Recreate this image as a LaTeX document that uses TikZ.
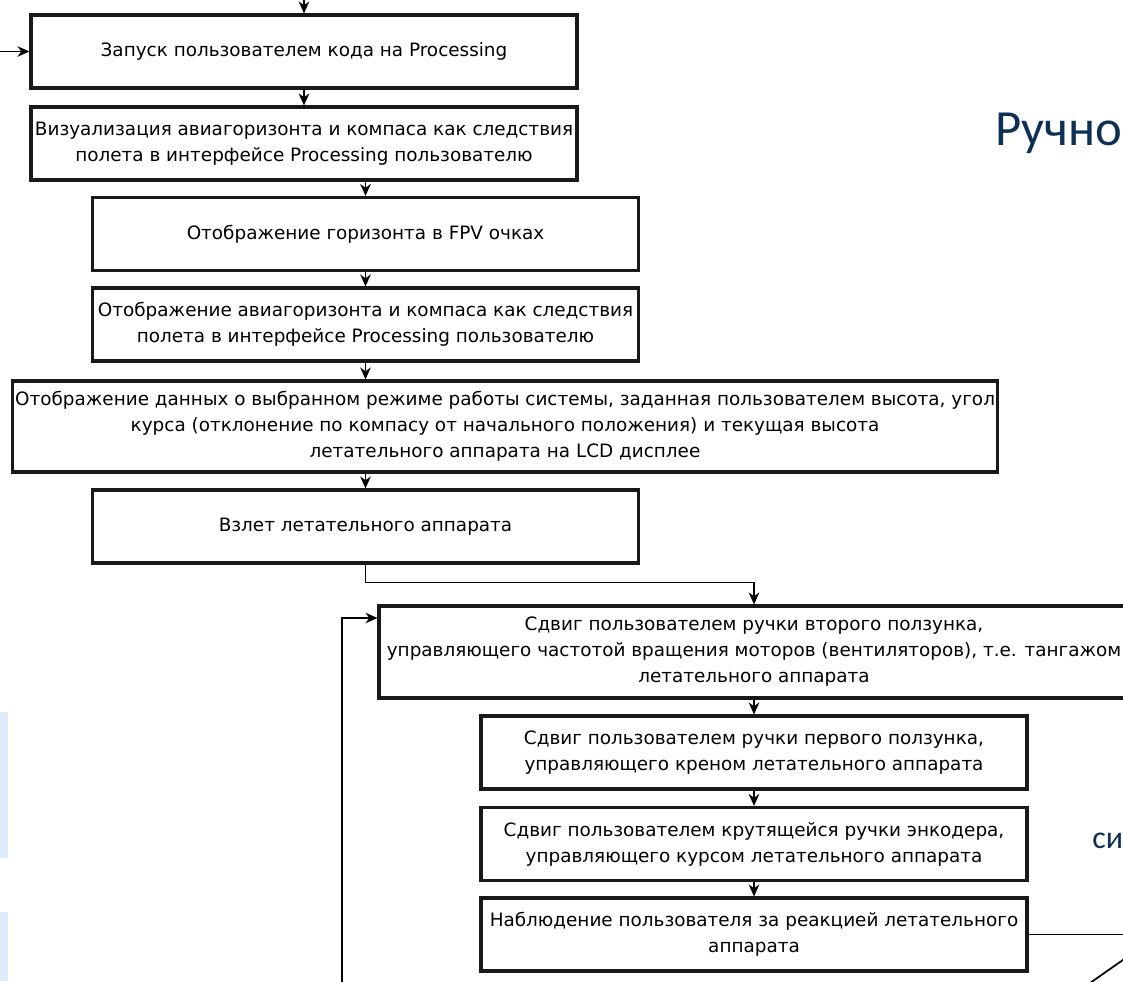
\documentclass[tikz,border=0pt]{standalone}
\usepackage{fontspec}
\setmainfont{DejaVu Sans}
\newfontfamily\titlefont{Carlito}
\usetikzlibrary{arrows.meta, positioning, calc}
\definecolor{navy}{RGB}{14,48,85}
\definecolor{paleblue}{RGB}{221,235,250}

\begin{document}
\begin{tikzpicture}[x=0.75pt, y=-0.75pt,
  blk/.style={rectangle, draw=black!90, line width=2.4pt, fill=white,
              align=center, inner sep=2pt, font=\fontsize{13.8}{19.5}\selectfont},
  wide/.style={blk, minimum width=409.5pt, minimum height=54.75pt},
  ar/.style={-{Stealth[length=9pt, width=8pt]}, line width=1.3pt},
  ln/.style={line width=1.3pt}
]
  \useasboundingbox (0,0) rectangle (1123,981);
  % faint shapes at the left edge
  \fill[paleblue] (0,712) rectangle (8,858);
  \fill[paleblue] (0,912) rectangle (8,981);

  \node[wide] (b1) at (304,51.5)  {Запуск пользователем кода на Processing};
  \node[wide] (b2) at (304,143.5) {Визуализация авиагоризонта и компаса как следствия\\полета в интерфейсе Processing пользователю};
  \node[wide] (b3) at (365.5,234) {Отображение горизонта в FPV очках};
  \node[wide] (b4) at (365.5,324.5) {Отображение авиагоризонта и компаса как следствия\\полета в интерфейсе Processing пользователю};
  \node[blk, minimum width=738pt, minimum height=68.25pt] (b5) at (505,426.5)
    {Отображение данных о выбранном режиме работы системы, заданная пользователем высота, угол\\курса (отклонение по компасу от начального положения) и текущая высота\\летательного аппарата на LCD дисплее};
  \node[wide] (b6) at (365.5,526.5) {Взлет летательного аппарата};
  \node[blk, minimum width=562.5pt, minimum height=69pt] (b7) at (754,652)
    {Сдвиг пользователем ручки второго ползунка,\\управляющего частотой вращения моторов (вентиляторов), т.е. тангажом\\летательного аппарата};
  \node[wide] (b8) at (754,752.5) {Сдвиг пользователем ручки первого ползунка,\\управляющего креном летательного аппарата};
  \node[wide] (b9) at (754,844)   {Сдвиг пользователем крутящейся ручки энкодера,\\управляющего курсом летательного аппарата};
  \node[wide] (b10) at (754,934.5) {Наблюдение пользователя за реакцией летательного\\аппарата};

  \node[anchor=base west, inner sep=0, text=navy, font=\titlefont\fontsize{38}{40}\selectfont] (ttl) at (995,145) {Ручно};
  \node[anchor=base west, inner sep=0, text=navy, font=\titlefont\fontsize{24}{26}\selectfont] (si) at (1092,848) {си};

  \coordinate (in1) at (304,-6);
  \coordinate (in2) at (-4,51.5);
  \coordinate (fb)  at (342,995);
  \coordinate (r1)  at (1140,934.5);
  \coordinate (d1)  at (1080,990);
  \coordinate (d2)  at (1140,948);

  \draw[ar] (in1) -- (b1.north); \draw[ar] (in2) -- (b1.west);
  \draw[ar] (b1) -- (b2); \draw[ar] (b3.north |- b2.south) -- (b3);
  \draw[ar] (b3) -- (b4); \draw[ar] (b4.south) -- (b4.south |- b5.north);
  \draw[ar] (b6.north |- b5.south) -- (b6);
  \draw[ar] (b6.south) -- ++(0,18) -| (b7.north);
  \draw[ar] (b7) -- (b8); \draw[ar] (b8) -- (b9); \draw[ar] (b9) -- (b10);
  \draw[ar] (fb) |- ([yshift=25.5pt]b7.west);
  \draw[ln] (b10.east) -- (r1);
  \draw[ln] (d1) -- (d2);
\end{tikzpicture}
\end{document}
